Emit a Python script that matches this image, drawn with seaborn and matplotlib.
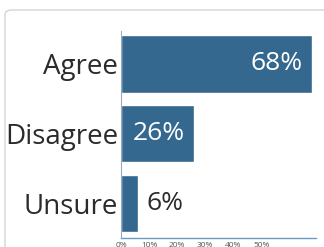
import matplotlib
matplotlib.use("Agg")
import matplotlib.pyplot as plt
from matplotlib.patches import FancyBboxPatch
import seaborn as sns
import pandas as pd

categories = ["Agree", "Disagree", "Unsure"]
values = [68, 26, 6]
tick_values = [0, 10, 20, 30, 40, 50]
tick_labels = ["0%", "10%", "20%", "30%", "40%", "50%"]

sns.set_style("white")
plt.rcParams['font.family'] = ['Open Sans', 'DejaVu Sans']

df = pd.DataFrame({"category": categories, "value": values})

fig = plt.figure(figsize=(3.24, 2.47), dpi=100)
# card border
card = FancyBboxPatch((5 / 324, -0.2), 1.2, 1 - 10 / 247 + 0.2,
                      boxstyle="round,pad=0,rounding_size=0.02",
                      transform=fig.transFigure, facecolor="white",
                      edgecolor="#d4d4d4", linewidth=1.0, zorder=-10)
fig.patches.append(card)

ax = fig.add_axes([121 / 324, 1 - 238 / 247, 195 / 324, (238 - 31) / 247])
ax.set_facecolor("none")
sns.barplot(data=df, x="value", y="category", orient="h", color="#34688f",
            saturation=1, width=0.82, ax=ax)
ax.set_xlim(0, 69.5)
ax.set_ylim(2.49, -0.47)
ax.set_xlabel("")
ax.set_ylabel("")

ax.set_xticks(tick_values)
ax.set_xticklabels(tick_labels, fontsize=6, color="#555555")
ax.tick_params(axis="x", length=2, width=0.6, color="#6f9ac0", pad=1.2, direction="out")
ax.tick_params(axis="y", length=0, labelsize=20, labelcolor="#2b2b2b", pad=2)
ax.set_yticks([0.5, 1.5], minor=True)
ax.tick_params(axis="y", which="minor", length=3, width=0.6, color="#9aaabb")

for s in ["top", "right"]:
    ax.spines[s].set_visible(False)
ax.spines["left"].set_color("#9aaabb")
ax.spines["left"].set_linewidth(0.8)
ax.spines["bottom"].set_color("#6f9ac0")
ax.spines["bottom"].set_linewidth(1.0)

for i, v in enumerate(values):
    label = f"{v}%"
    if v > 20:
        ax.text(v - 3.3, i, label, ha="right", va="center", color="white", fontsize=19)
    else:
        ax.text(v + 3, i, label, ha="left", va="center", color="#2b2b2b", fontsize=19)

fig.savefig("out.png", dpi=100)
